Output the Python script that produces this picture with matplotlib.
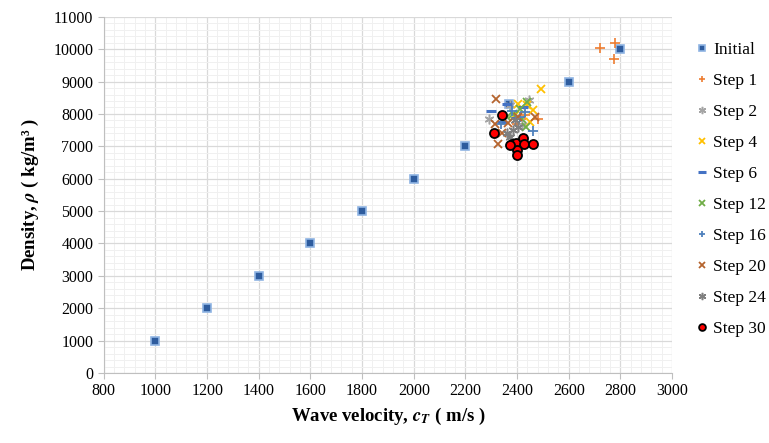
import numpy as np
import matplotlib
matplotlib.use("Agg")
import matplotlib.pyplot as plt
from matplotlib.ticker import MultipleLocator

plt.rcParams["font.family"] = ["Liberation Serif", "DejaVu Serif"]
plt.rcParams["mathtext.fontset"] = "stix"

# -----------------------------
# Data
# -----------------------------
init_x = [1000, 1200, 1400, 1600, 1800, 2000, 2200, 2370, 2600, 2800]
init_y = [1000, 2000, 3000, 4000, 5000, 6000, 7000, 8300, 9000, 10000]

s1_x = [2720, 2778, 2775, 2480, 2430, 2400]
s1_y = [10040, 10190, 9690, 7840, 7980, 7700]

s2_x = [2290, 2445, 2372, 2420, 2340]
s2_y = [7860, 8420, 8270, 7650, 7950]

s4_x = [2492, 2405, 2460, 2437, 2390, 2450]
s4_y = [8770, 8320, 8110, 8270, 7960, 7750]

s6_x = [2298, 2424, 2360, 2395, 2340]
s6_y = [8090, 8200, 8320, 7880, 7760]

s12_x = [2385, 2410, 2436, 2359, 2440, 2420]
s12_y = [8010, 8165, 7600, 7907, 8380, 7850]

s16_x = [2462, 2339, 2410, 2380, 2430]
s16_y = [7460, 7700, 7910, 8100, 8050]

s20_x = [2320, 2314, 2326, 2403, 2364, 2470, 2340]
s20_y = [8450, 7700, 7080, 7910, 7710, 7900, 7400]

s24_x = [2385, 2372, 2404, 2391, 2360]
s24_y = [7495, 7290, 7600, 7800, 7400]

s30_x = [2343, 2311, 2381, 2394, 2423, 2427, 2462, 2400, 2401, 2372]
s30_y = [7960, 7420, 7060, 7110, 7270, 7080, 7060, 6880, 6720, 7050]

asterisk = (6, 2, 0)

fig = plt.figure(figsize=(7.69, 4.43), dpi=100)
ax = fig.add_axes([0.135, 0.158, 0.739, 0.804])

ax.plot(init_x, init_y, "s", ms=6, mfc="#2E5C9E", mec="#8FB4E3", mew=1.2, label="Initial")
ax.plot(s1_x, s1_y, "+", ms=6.5, color="#ED7D31", mew=1.2, label="Step 1")
ax.plot(s2_x, s2_y, ls="none", marker=asterisk, ms=7, color="#A5A5A5", mew=1.1, label="Step 2")
ax.plot(s4_x, s4_y, "x", ms=6, color="#FFC000", mew=1.3, label="Step 4")
ax.plot(s6_x, s6_y, "_", ms=7, color="#4472C4", mew=2.2, label="Step 6")
ax.plot(s12_x, s12_y, "x", ms=6, color="#70AD47", mew=1.3, label="Step 12")
ax.plot(s16_x, s16_y, "+", ms=6.5, color="#4F81BD", mew=1.3, label="Step 16")
ax.plot(s20_x, s20_y, "x", ms=6, color="#B5642E", mew=1.3, label="Step 20")
ax.plot(s24_x, s24_y, ls="none", marker=asterisk, ms=7, color="#7F7F7F", mew=1.1, label="Step 24")
ax.plot(s30_x, s30_y, "o", ms=6.5, mfc="#FF0000", mec="black", mew=1.3, label="Step 30")

ax.set_xlim(800, 3000)
ax.set_ylim(0, 11000)
ax.xaxis.set_major_locator(MultipleLocator(200))
ax.yaxis.set_major_locator(MultipleLocator(1000))
ax.xaxis.set_minor_locator(MultipleLocator(40))
ax.yaxis.set_minor_locator(MultipleLocator(200))

ax.grid(which="major", color="#D9D9D9", lw=0.9)
ax.grid(which="minor", color="#F0F0F0", lw=0.7)
ax.set_axisbelow(True)

for s in ["top", "right"]:
    ax.spines[s].set_visible(False)
for s in ["left", "bottom"]:
    ax.spines[s].set_color("#BFBFBF")
ax.tick_params(which="major", length=4, color="#BFBFBF", labelsize=11.5)
ax.tick_params(which="minor", length=0)

ax.set_xlabel(r"Wave velocity, $\mathbfit{c_T}$ ( m/s )", fontsize=13.5, fontweight="bold", labelpad=5)
ax.set_ylabel("Density, $\\mathbfit{\\rho}$ ( kg/m\u00b3 )", fontsize=13.5, fontweight="bold", labelpad=9)

fig.legend(loc="upper left", bbox_to_anchor=(0.896, 0.922), frameon=False,
           fontsize=12.5, handlelength=0.7, handletextpad=0.3, labelspacing=0.86,
           markerscale=0.75, borderaxespad=0)

fig.savefig("out.png", dpi=100)
